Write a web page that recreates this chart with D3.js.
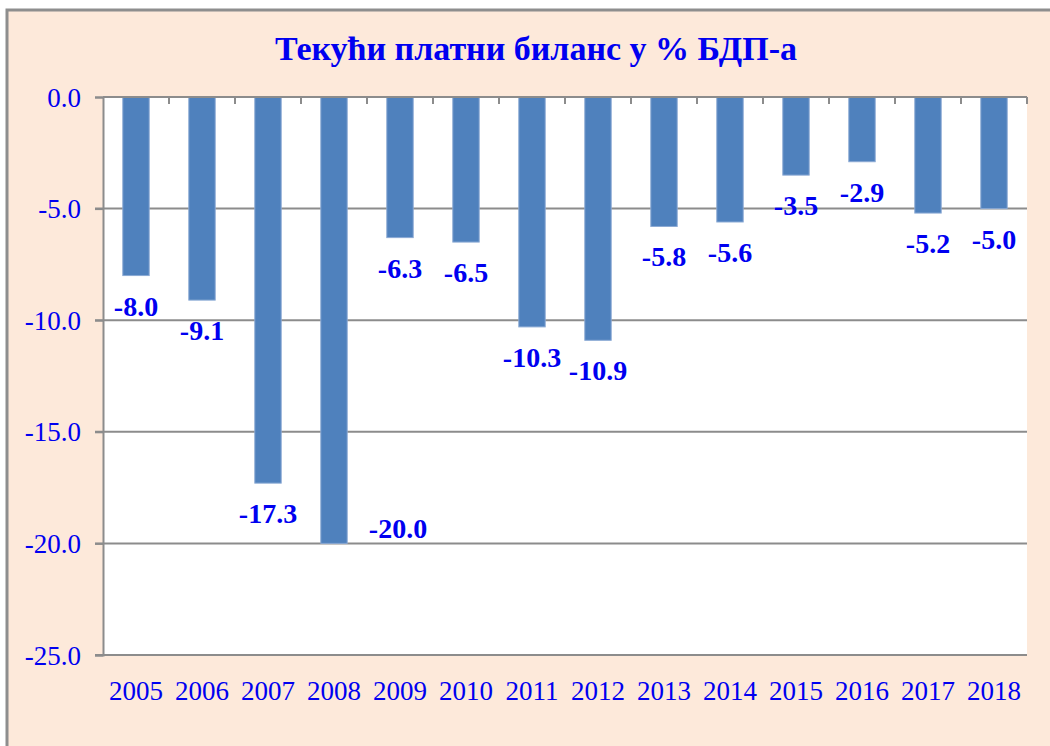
<!DOCTYPE html>
<html lang="sr">
<head>
<meta charset="utf-8">
<script src="https://d3js.org/d3.v7.min.js"></script>
<style>
  body { margin: 0; background: #fff; }
  text { font-family: "Liberation Serif", "Times New Roman", serif; }
</style>
</head>
<body>
<script>
  // data
  var years = ["2005", "2006", "2007", "2008", "2009", "2010", "2011",
               "2012", "2013", "2014", "2015", "2016", "2017", "2018"];
  var balance = [-8.0, -9.1, -17.3, -20.0, -6.3, -6.5, -10.3,
                 -10.9, -5.8, -5.6, -3.5, -2.9, -5.2, -5.0];
  var yTicks = [0, -5, -10, -15, -20, -25];
  var title = "Текући платни биланс у % БДП-а";

  var W = 1050, H = 746;
  var plot = {left: 103, right: 1027, top: 97, bottom: 655};
  var blue = "#0000f0", grid = "#8c8c8c";

  // hyphen instead of the unicode minus d3 uses
  var fmt = d => d3.format(".1f")(d).replace("\u2212", "-");

  var svg = d3.select("body").append("svg")
      .attr("width", W)
      .attr("height", H);

  // outer frame (runs past the right and bottom edge)
  svg.append("rect")
      .attr("x", 7).attr("y", 10)
      .attr("width", W + 20).attr("height", H + 20)
      .attr("fill", "#fde9da")
      .attr("stroke", "#8e8e8e")
      .attr("stroke-width", 3);

  var x = d3.scaleBand()
      .domain(years)
      .range([plot.left, plot.right])
      .paddingInner(0.6)
      .paddingOuter(0.3);

  var y = d3.scaleLinear()
      .domain([0, -25])
      .range([plot.top, plot.bottom]);

  svg.append("rect")
      .attr("x", plot.left).attr("y", plot.top)
      .attr("width", plot.right - plot.left)
      .attr("height", plot.bottom - plot.top)
      .attr("fill", "#fff");

  // horizontal grid lines with tick stubs on the left
  svg.append("g")
    .selectAll("line")
    .data(yTicks.slice(1))
    .enter().append("line")
      .attr("x1", plot.left - 8)
      .attr("x2", plot.right)
      .attr("y1", d => y(d))
      .attr("y2", d => y(d))
      .attr("stroke", grid)
      .attr("stroke-width", 2);

  var yAxis = d3.axisLeft(y)
      .tickValues(yTicks)
      .tickSize(8)
      .tickPadding(14)
      .tickFormat(fmt);

  var yg = svg.append("g")
      .attr("transform", "translate(" + plot.left + ",0)")
      .call(yAxis);
  yg.select(".domain").attr("stroke", grid).attr("stroke-width", 2);
  yg.selectAll(".tick line").attr("stroke", grid).attr("stroke-width", 2);
  yg.selectAll(".tick text")
      .attr("fill", blue)
      .style("font-family", "Liberation Serif, serif")
      .style("font-size", "27px")
      .attr("dy", "0.34em");

  // bars
  svg.append("g")
    .selectAll("rect")
    .data(balance)
    .enter().append("rect")
      .attr("x", (d, i) => x(years[i]))
      .attr("y", y(0))
      .attr("width", x.bandwidth())
      .attr("height", d => y(d) - y(0))
      .attr("fill", "#4f81bd")
      .attr("stroke", "#8aa9d4")
      .attr("stroke-width", 1);

  // category axis sits on the zero line, ticks between categories
  var step = x.step();
  svg.append("line")
      .attr("x1", plot.left).attr("x2", plot.right)
      .attr("y1", y(0)).attr("y2", y(0))
      .attr("stroke", grid).attr("stroke-width", 2);

  svg.append("g")
    .selectAll("line")
    .data(years)
    .enter().append("line")
      .attr("x1", d => x(d) - x.bandwidth() * 0.75 + step)
      .attr("x2", d => x(d) - x.bandwidth() * 0.75 + step)
      .attr("y1", y(0))
      .attr("y2", y(0) + 7)
      .attr("stroke", grid)
      .attr("stroke-width", 2);

  svg.append("g")
    .selectAll("text")
    .data(years)
    .enter().append("text")
      .attr("x", d => x(d) + x.bandwidth() / 2)
      .attr("y", plot.bottom + 45)
      .attr("text-anchor", "middle")
      .attr("fill", blue)
      .style("font-size", "27px")
      .text(d => d);

  // value labels below bar ends; 2008 label was dragged aside in the original
  svg.append("g")
    .selectAll("text")
    .data(balance)
    .enter().append("text")
      .attr("x", (d, i) => x(years[i]) + x.bandwidth() / 2 + (i === 3 ? 64 : 0))
      .attr("y", (d, i) => y(d) + (i === 3 ? -5 : 40))
      .attr("text-anchor", "middle")
      .attr("fill", blue)
      .style("font-size", "28px")
      .style("font-weight", "bold")
      .text(fmt);

  svg.append("text")
      .attr("x", 536)
      .attr("y", 60)
      .attr("text-anchor", "middle")
      .attr("fill", blue)
      .style("font-size", "34px")
      .style("font-weight", "bold")
      .text(title);
</script>
</body>
</html>
